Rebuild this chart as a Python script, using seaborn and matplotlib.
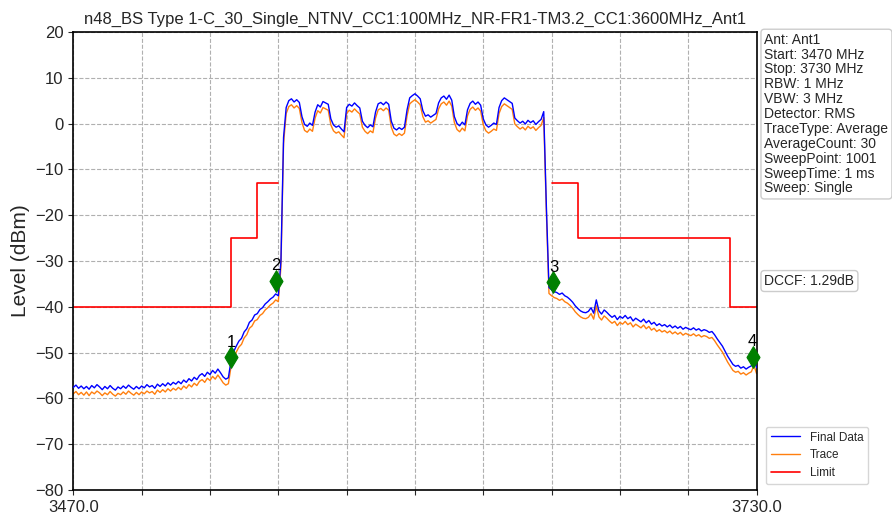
import numpy as np
import pandas as pd
import matplotlib
matplotlib.use("Agg")
import matplotlib.pyplot as plt
import seaborn as sns

# Data (1 MHz step)
freq = np.arange(3470, 3731, 1)

final_data = [
    -57.6, -57.1, -57.8, -57.3, -57.9, -57.4, -58.0, -57.2, -57.7, -57.0,
    -57.5, -58.1, -57.4, -57.9, -57.2, -57.8, -58.2, -57.5, -57.9, -57.3,
    -57.8, -57.1, -57.6, -58.0, -57.4, -57.9, -57.3, -57.7, -57.0, -57.5,
    -57.2, -57.8, -56.9, -57.4, -56.8, -57.3, -56.6, -57.1, -56.5, -56.9,
    -56.3, -56.8, -56.0, -56.5, -55.7, -56.2, -55.4, -55.9, -55.0, -54.6,
    -55.2, -54.3, -54.8, -53.9, -54.5, -53.6, -54.4, -55.3, -55.8, -55.5,
    -51.8, -49.8, -48.6, -47.5, -46.9, -45.5, -44.8, -43.4, -42.9, -41.8,
    -41.5, -40.6, -40.2, -39.4, -38.9, -38.3, -37.9, -37.2, -37.6, -30.0,
    -3.0, 3.5, 5.0, 5.4, 4.7, 5.2, 4.6, 1.5, -0.2, -0.6,
    0.1, -0.4, 2.5, 4.1, 3.6, 4.8, 4.5, 4.2, 1.0, -0.3,
    -0.8, -0.5, -1.2, -1.8, 3.5, 4.2, 3.8, 4.5, 3.9, 3.4,
    0.5, -0.4, -0.9, -0.3, -0.7, 2.5, 4.3, 4.6, 4.1, 4.7,
    4.2, 0.5, -1.0, -1.4, -0.9, -1.3, -0.8, 3.0, 5.6, 6.1,
    6.5, 6.0, 5.4, 2.8, 1.6, 1.9, 1.4, 1.8, 2.2, 4.5,
    5.6, 6.0, 5.3, 6.2, 5.1, 1.5, 0.0, -0.5, 0.3, -0.3,
    3.0, 4.4, 4.9, 4.2, 4.7, 4.0, 1.0, -0.3, -0.8, -0.4,
    0.1, -0.2, 3.5, 5.0, 5.6, 5.2, 4.8, 4.4, 1.2, 0.6,
    0.1, 0.5, -0.1, 0.7, 0.2, 0.6, -0.2, 0.4, 0.9, 2.6,
    -18.0, -35.8, -36.3, -36.7, -36.9, -37.3, -37.0, -37.6, -37.9, -38.4,
    -39.0, -39.8, -40.4, -40.9, -41.2, -41.3, -41.0, -40.2, -41.4, -38.5,
    -40.9, -41.6, -40.7, -41.2, -41.8, -42.3, -41.9, -42.8, -42.1, -42.5,
    -41.9, -42.6, -42.2, -43.1, -42.5, -42.9, -43.3, -42.7, -43.5, -43.0,
    -43.8, -43.4, -44.1, -43.7, -44.2, -43.9, -44.4, -44.0, -44.6, -44.2,
    -44.7, -44.3, -44.9, -44.5, -44.8, -45.0, -44.6, -45.1, -44.8, -45.3,
    -45.0, -45.2, -45.6, -45.4, -46.1, -47.0, -47.8, -48.6, -49.7, -50.8,
    -51.7, -52.6, -53.0, -52.8, -53.4, -53.1, -53.6, -53.2, -52.9, -51.5,
    -53.3,
]

trace = [
    -59.0, -58.5, -59.2, -58.7, -59.3, -58.6, -59.4, -58.6, -59.0, -58.4,
    -58.8, -59.4, -58.8, -59.2, -58.5, -59.1, -59.5, -58.9, -59.2, -58.6,
    -59.1, -58.4, -58.9, -59.3, -58.7, -59.2, -58.6, -59.0, -58.4, -58.8,
    -58.5, -59.1, -58.2, -58.7, -58.1, -58.6, -57.9, -58.4, -57.8, -58.2,
    -57.6, -58.1, -57.3, -57.8, -57.0, -57.5, -56.7, -57.2, -56.3, -55.9,
    -56.5, -55.6, -56.1, -55.2, -55.8, -54.9, -55.7, -56.6, -57.1, -56.8,
    -53.1, -51.1, -49.9, -48.8, -48.2, -46.8, -46.1, -44.7, -44.2, -43.1,
    -42.8, -41.9, -41.5, -40.7, -40.2, -39.6, -39.2, -38.5, -38.9, -31.3,
    -4.3, 2.2, 3.7, 4.1, 3.4, 3.9, 3.3, 0.2, -1.5, -1.9,
    -1.2, -1.7, 1.2, 2.8, 2.3, 3.5, 3.2, 2.9, -0.3, -1.6,
    -2.1, -1.8, -2.5, -3.1, 2.2, 2.9, 2.5, 3.2, 2.6, 2.1,
    -0.8, -1.7, -2.2, -1.6, -2.0, 1.2, 3.0, 3.3, 2.8, 3.4,
    2.9, -0.8, -2.3, -2.7, -2.2, -2.6, -2.1, 1.7, 4.3, 4.8,
    5.2, 4.7, 4.1, 1.5, 0.3, 0.6, 0.1, 0.5, 0.9, 3.2,
    4.3, 4.7, 4.0, 4.9, 3.8, 0.2, -1.3, -1.8, -1.0, -1.6,
    1.7, 3.1, 3.6, 2.9, 3.4, 2.7, -0.3, -1.6, -2.1, -1.7,
    -1.2, -1.5, 2.2, 3.7, 4.3, 3.9, 3.5, 3.1, -0.1, -0.7,
    -1.2, -0.8, -1.4, -0.6, -1.1, -0.7, -1.5, -0.9, -0.4, 1.3,
    -19.3, -37.1, -37.6, -38.0, -38.2, -38.6, -38.3, -38.9, -39.2, -39.7,
    -40.3, -41.1, -41.7, -42.2, -42.5, -42.6, -42.3, -41.5, -42.7, -39.8,
    -42.2, -42.9, -42.0, -42.5, -43.1, -43.6, -43.2, -44.1, -43.4, -43.8,
    -43.2, -43.9, -43.5, -44.4, -43.8, -44.2, -44.6, -44.0, -44.8, -44.3,
    -45.1, -44.7, -45.4, -45.0, -45.5, -45.2, -45.7, -45.3, -45.9, -45.5,
    -46.0, -45.6, -46.2, -45.8, -46.1, -46.3, -45.9, -46.4, -46.1, -46.6,
    -46.3, -46.5, -46.9, -46.7, -47.4, -48.3, -49.1, -49.9, -51.0, -52.1,
    -53.0, -53.9, -54.3, -54.1, -54.7, -54.4, -54.9, -54.5, -54.2, -52.8,
    -54.6,
]

# limit mask, two pieces
limit_left_f = [3470, 3530, 3530, 3540, 3540, 3548]
limit_left_v = [-40, -40, -25, -25, -13, -13]
limit_right_f = [3652, 3662, 3662, 3720, 3720, 3730]
limit_right_v = [-13, -13, -25, -25, -40, -40]

marker_f = [3530, 3547, 3652.7, 3728.5]
marker_v = [-51.0, -34.3, -34.6, -50.9]
marker_names = ["1", "2", "3", "4"]

title = "n48_BS Type 1-C_30_Single_NTNV_CC1:100MHz_NR-FR1-TM3.2_CC1:3600MHz_Ant1"
info_lines = [
    "Ant: Ant1", "Start: 3470 MHz", "Stop: 3730 MHz", "RBW: 1 MHz", "VBW: 3 MHz",
    "Detector: RMS", "TraceType: Average", "AverageCount: 30", "SweepPoint: 1001",
    "SweepTime: 1 ms", "Sweep: Single",
]
dccf_text = "DCCF: 1.29dB"

sns.set_style("ticks")
plt.rcParams['font.family'] = ['Liberation Sans', 'DejaVu Sans']

df = pd.DataFrame({"freq": freq, "final": final_data, "trace": trace})

fig = plt.figure(figsize=(8.92, 5.19), dpi=100)
ax = fig.add_axes([0.0822, 0.0559, 0.7660, 0.8826])

sns.lineplot(data=df, x="freq", y="final", color="#0000ff", lw=1.0,
             label="Final Data", ax=ax, estimator=None, sort=False, zorder=3)
sns.lineplot(data=df, x="freq", y="trace", color="#ff7f0e", lw=1.0,
             label="Trace", ax=ax, estimator=None, sort=False, zorder=2)
sns.lineplot(x=limit_left_f, y=limit_left_v, color="#ff0000", lw=1.2,
             label="Limit", ax=ax, estimator=None, sort=False, zorder=2)
sns.lineplot(x=limit_right_f, y=limit_right_v, color="#ff0000", lw=1.2,
             label="_nolegend_", ax=ax, estimator=None, sort=False, zorder=2)
sns.scatterplot(x=marker_f, y=marker_v, marker="d", s=120, color="green",
                edgecolor="green", ax=ax, zorder=5, legend=False, clip_on=False)
for f, v, n in zip(marker_f, marker_v, marker_names):
    ax.text(f, v + 1.6, n, ha="center", va="bottom", fontsize=12, color="black", zorder=6)

ax.set_xlim(3470, 3730)
ax.set_ylim(-80, 20)
xt = np.arange(3470, 3731, 26)
ax.set_xticks(xt)
ax.set_xticklabels(["3470.0"] + [""] * (len(xt) - 2) + ["3730.0"], fontsize=12)
ax.set_yticks(np.arange(-80, 21, 10))
ax.tick_params(axis="y", labelsize=12)
ax.grid(True, linestyle="--", color="#b0b0b0", lw=0.8)
for s in ax.spines.values():
    s.set_color("black")
    s.set_linewidth(1.2)
ax.set_xlabel("")
ax.set_ylabel("Level (dBm)", fontsize=15)
ax.set_title(title, fontsize=12, pad=6)

box = dict(boxstyle="round,pad=0.25", facecolor="white", edgecolor="#cccccc", lw=1)
fig.text(0.857, 0.937, "\n".join(info_lines), fontsize=10, va="top", ha="left",
         linespacing=1.08, bbox=box)
fig.text(0.857, 0.472, dccf_text, fontsize=10, va="top", ha="left", bbox=box)

ax.legend(loc="lower left", bbox_to_anchor=(1.005, 0.0), fontsize=8.5,
          frameon=True, edgecolor="#cccccc", handlelength=2.5)

fig.savefig("out.png", dpi=100)
